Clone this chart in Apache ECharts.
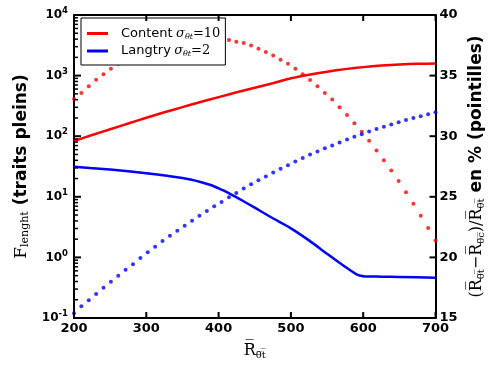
<!DOCTYPE html>
<html>
<head>
<meta charset="utf-8">
<script src="https://cdn.jsdelivr.net/npm/echarts@6/dist/echarts.min.js"></script>
<style>html,body{margin:0;padding:0;background:#fff}#c{width:494px;height:365px}</style>
</head>
<body>
<div id="c"></div>
<script>
// ---- data ----
var xTicks = [200, 300, 400, 500, 600, 700];
var leftTicks = [0.1, 1, 10, 100, 1000, 10000];
var rightTicks = [15, 20, 25, 30, 35, 40];

// solid lines (left log axis)
var contentX = [200,225,250,275,300,325,350,375,400,425,450,475,500,525,550,575,600,625,650,675,700];
var contentF = [83.2,104.7,130.3,162.2,201.8,248.3,302,367,441.6,530.9,631,750,901.6,1035,1161,1279,1380,1462,1524,1567,1581];

var langtryX = [200,250,300,350,375,390,400,410,425,450,475,500,525,550,575,590,600,625,650,700];
var langtryF = [31.3,28.2,24.5,20.4,17.6,15.5,13.8,12.2,9.77,6.61,4.42,3.02,1.91,1.15,0.70,0.531,0.490,0.481,0.476,0.462];

// dotted (right axis, %)
var dotX = [200.0,210.2,220.4,230.6,240.8,251.0,261.2,271.4,281.6,291.8,302.0,312.2,322.4,332.7,342.9,353.1,363.3,373.5,383.7,393.9,
            404.1,414.3,424.5,434.7,444.9,455.1,465.3,475.5,485.7,495.9,506.1,516.3,526.5,536.7,546.9,557.1,567.3,577.6,587.8,598.0,
            608.2,618.4,628.6,638.8,649.0,659.2,669.4,679.6,689.8,700.0];
var contentPct = [33.06,33.57,34.12,34.66,35.12,35.56,35.97,36.35,36.70,37.00,37.30,37.55,37.75,37.92,38.05,38.14,38.20,38.22,38.20,38.16,
                  38.09,37.93,37.79,37.69,37.49,37.22,36.95,36.65,36.30,35.97,35.56,35.12,34.63,34.12,33.57,33.02,32.38,31.75,31.07,30.36,
                  29.62,28.83,28.01,27.17,26.30,25.38,24.42,23.44,22.43,21.40];
var langtryPct = [15.40,15.96,16.47,16.99,17.50,17.99,18.49,18.98,19.44,19.95,20.42,20.88,21.35,21.78,22.19,22.62,23.03,23.44,23.82,24.23,
                  24.58,24.97,25.32,25.68,26.03,26.36,26.68,27.01,27.31,27.61,27.91,28.21,28.48,28.73,29.00,29.24,29.49,29.73,29.95,30.17,
                  30.38,30.60,30.79,30.96,31.15,31.34,31.50,31.64,31.81,31.97];

var minorTicks = [];
[0.1, 1, 10, 100, 1000].forEach(function (d) {
  for (var k = 2; k <= 9; k++) minorTicks.push(+(d * k).toPrecision(3));
});

function zip(a, b) { return a.map(function (v, i) { return [v, b[i]]; }); }

var nameContent = 'Content σθt=10';
var nameLangtry = 'Langtry σθt=2';

var chart = echarts.init(document.getElementById('c'), null, {renderer: 'canvas'});
function axLine() { return {show: true, lineStyle: {color: '#000', width: 2}}; }
function boldLabel() { return {show: true, margin: 4, fontFamily: 'DejaVu Sans', fontWeight: 'bold', fontSize: 13, color: '#000'}; }
var serif = 'DejaVu Serif';
var OL = '\u0305';

chart.setOption({
  animation: false,
  backgroundColor: '#fff',
  grid: {left: 74, right: 44, top: 15, bottom: 44},
  legend: {
    data: [nameContent, nameLangtry],
    left: 81, top: 18,
    orient: 'vertical',
    backgroundColor: '#fff',
    borderColor: '#000', borderWidth: 1, borderRadius: 0,
    padding: [9, 5, 7, 6],
    itemGap: 4,
    itemWidth: 21, itemHeight: 3,
    icon: 'rect',
    z: 10,
    formatter: function (n) {
      var parts = n === nameContent ? ['Content', '10'] : ['Langtry', '2'];
      return '{a|' + parts[0] + '} {s|σ}{sub|θt}{e|=' + parts[1] + '}';
    },
    textStyle: {
      color: '#000',
      rich: {
        a: {fontFamily: 'DejaVu Sans', fontSize: 13, padding: [0, 0, 0, 8], color: '#000'},
        s: {fontFamily: serif, fontStyle: 'italic', fontSize: 13, color: '#000'},
        sub: {fontFamily: serif, fontStyle: 'italic', fontSize: 8, padding: [6, 0, 0, 0], color: '#000'},
        e: {fontFamily: serif, fontSize: 13, color: '#000'}
      }
    }
  },
  xAxis: [{
    type: 'value', min: 200, max: 700, interval: 100, position: 'bottom',
    axisLine: axLine(),
    axisTick: {show: false},
    splitLine: {show: false},
    axisLabel: boldLabel(),
    name: '{r|R' + OL + '}{sub|θ' + OL + 't' + OL + '}',
    nameLocation: 'middle', nameGap: 24,
    nameTextStyle: {
      rich: {
        r: {fontFamily: serif, fontSize: 16, color: '#000'},
        sub: {fontFamily: serif, fontSize: 10, padding: [8, 0, 0, 0], color: '#000'}
      }
    }
  }, {
    type: 'value', min: 200, max: 700, interval: 100, position: 'top',
    axisLine: axLine(),
    axisTick: {show: false},
    splitLine: {show: false},
    axisLabel: {show: false}
  }],
  yAxis: [{
    type: 'log', logBase: 10, min: 0.1, max: 10000, position: 'left',
    axisLine: axLine(),
    axisTick: {show: false},
    splitLine: {show: false},
    axisLabel: {
      show: true,
      margin: 6,
      formatter: function (v) {
        var e = Math.round(Math.log10(v));
        return '{b|10}{p|' + e + '}';
      },
      rich: {
        b: {fontFamily: 'DejaVu Sans', fontWeight: 'bold', fontSize: 12, color: '#000'},
        p: {fontFamily: 'DejaVu Sans', fontWeight: 'bold', fontSize: 8.5, padding: [0, 0, 8, 0], color: '#000'}
      }
    },
    name: '{f|F}{sub|lenght}{t| (traits pleins)}',
    nameLocation: 'middle', nameGap: 42, nameRotate: 90,
    nameTextStyle: {
      rich: {
        f: {fontFamily: serif, fontSize: 17, color: '#000'},
        sub: {fontFamily: serif, fontSize: 11, padding: [8, 0, 0, 0], color: '#000'},
        t: {fontFamily: 'DejaVu Sans', fontWeight: 'bold', fontSize: 17, color: '#000'}
      }
    }
  }, {
    type: 'value', min: 15, max: 40, interval: 5, position: 'right',
    axisLine: axLine(),
    axisTick: {show: false},
    splitLine: {show: false},
    axisLabel: boldLabel(),
    name: '{p|(}{r|R' + OL + '}{sub|θ' + OL + 't' + OL + '}{p|−}{r|R' + OL + '}{sub|θ' + OL + 'c' + OL + '}{p|)/}{r|R' + OL + '}{sub|θ' + OL + 't' + OL + '}{t| en % (pointilles)}',
    nameLocation: 'middle', nameGap: 18, nameRotate: 90,
    nameTextStyle: {
      rich: {
        p: {fontFamily: serif, fontSize: 16, color: '#000'},
        r: {fontFamily: serif, fontSize: 16, color: '#000'},
        sub: {fontFamily: serif, fontSize: 10, padding: [8, 0, 0, 0], color: '#000'},
        t: {fontFamily: 'DejaVu Sans', fontWeight: 'bold', fontSize: 17, color: '#000'}
      }
    }
  }],
  series: [{
    name: nameContent, type: 'line', xAxisIndex: 0, yAxisIndex: 0,
    data: zip(contentX, contentF), showSymbol: false, smooth: 0.2,
    lineStyle: {color: '#ff0000', width: 2.5}, itemStyle: {color: '#ff0000'}, z: 3
  }, {
    name: nameLangtry, type: 'line', xAxisIndex: 0, yAxisIndex: 0,
    data: zip(langtryX, langtryF), showSymbol: false, smooth: 0.2,
    lineStyle: {color: '#0000ff', width: 2.5}, itemStyle: {color: '#0000ff'}, z: 3
  }, {
    name: 'Content %', type: 'scatter', xAxisIndex: 0, yAxisIndex: 1,
    data: zip(dotX, contentPct), symbolSize: 4, itemStyle: {color: '#ff0000'}, z: 2
  }, {
    name: 'Langtry %', type: 'scatter', xAxisIndex: 0, yAxisIndex: 1,
    data: zip(dotX, langtryPct), symbolSize: 4, itemStyle: {color: '#0000ff'}, z: 2
  }]
});

// tick marks: positions come from the axes' own scales via convertToPixel
function px(xi, yi, pt) { return chart.convertToPixel({xAxisIndex: xi, yAxisIndex: yi}, pt); }
var ticks = [];
function seg(x1, y1, x2, y2, w) {
  ticks.push({type: 'line', silent: true, z: 100,
    shape: {x1: x1, y1: y1, x2: x2, y2: y2},
    style: {stroke: '#000', lineWidth: w}});
}
xTicks.forEach(function (x) {
  var b = px(0, 0, [x, 0.1]); seg(b[0], b[1], b[0], b[1] - 6, 2);
  var t = px(0, 0, [x, 10000]); seg(t[0], t[1], t[0], t[1] + 6, 2);
});
leftTicks.forEach(function (v) { var p = px(0, 0, [200, v]); seg(p[0], p[1], p[0] + 7, p[1], 2); });
minorTicks.forEach(function (v) { var p = px(0, 0, [200, v]); seg(p[0], p[1], p[0] + 4, p[1], 1.5); });
rightTicks.forEach(function (v) { var p = px(0, 1, [700, v]); seg(p[0], p[1], p[0] - 6, p[1], 2); });
chart.setOption({graphic: {elements: ticks}});
</script>
</body>
</html>
